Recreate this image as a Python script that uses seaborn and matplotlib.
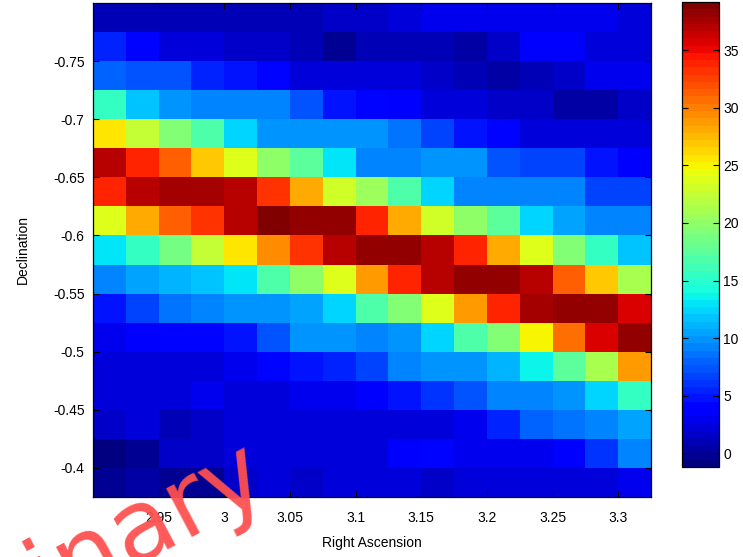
import numpy as np
import pandas as pd
import matplotlib
matplotlib.use("Agg")
import matplotlib.pyplot as plt
import seaborn as sns

# ---- data (2D histogram, rows from top: Declination -0.7875 ... -0.3875) ----
ra_edges_start = 2.9
dec_edges_start = -0.8
bin_width = 0.025
n_bins = 17

row00 = [1.2, 1.0, 1.2, 1.0, 1.0, 1.2, 1.0, 1.5, 1.8, 2.5, 2.8, 3.0, 2.8, 2.6, 3.2, 2.8, 2.5]
row01 = [5.5, 4.0, 2.5, 2.5, 1.5, 1.5, 1.0, 0.0, 1.0, 1.0, 1.0, 0.5, 1.5, 3.5, 3.5, 2.5, 2.5]
row02 = [7.8, 7.2, 7.2, 5.5, 5.0, 4.0, 2.5, 2.0, 2.0, 2.0, 1.5, 1.0, 0.5, 1.0, 1.5, 3.0, 3.0]
row03 = [15.5, 12.0, 10.0, 9.5, 9.5, 9.0, 7.2, 4.8, 4.3, 3.5, 2.5, 2.0, 1.5, 1.5, 0.5, 0.5, 1.5]
row04 = [25.5, 22.5, 19.5, 17.0, 12.5, 10.0, 10.0, 10.0, 10.0, 8.3, 6.8, 4.8, 4.0, 2.5, 2.5, 2.0, 2.0]
row05 = [37.0, 34.0, 31.0, 27.0, 24.0, 20.0, 17.5, 13.0, 9.5, 9.5, 10.0, 10.0, 7.5, 7.0, 6.5, 4.5, 3.5]
row06 = [34.0, 37.0, 37.5, 37.5, 36.8, 33.0, 28.0, 23.0, 20.5, 17.0, 12.5, 9.5, 9.0, 9.5, 9.5, 6.8, 6.8]
row07 = [24.0, 28.0, 31.0, 33.0, 37.0, 39.2, 38.5, 38.0, 34.0, 28.0, 23.0, 20.0, 17.5, 12.5, 10.5, 9.5, 9.5]
row08 = [13.0, 15.5, 19.0, 22.5, 25.5, 29.5, 33.5, 37.0, 38.5, 38.5, 37.0, 34.0, 28.0, 24.0, 19.5, 15.5, 12.0]
row09 = [9.0, 10.5, 11.0, 12.0, 13.0, 17.0, 20.0, 24.0, 28.5, 34.0, 37.0, 38.0, 38.0, 37.0, 31.5, 27.0, 21.5]
row10 = [4.8, 6.8, 8.3, 9.5, 10.0, 10.0, 10.5, 12.5, 17.0, 19.5, 24.0, 29.0, 34.0, 37.5, 38.5, 38.5, 35.5]
row11 = [3.0, 3.5, 4.0, 4.0, 5.0, 7.5, 10.0, 10.0, 9.0, 10.0, 12.5, 16.5, 19.5, 25.0, 30.5, 35.5, 38.5]
row12 = [2.5, 2.5, 2.5, 2.0, 3.0, 4.3, 4.8, 5.2, 7.0, 9.5, 10.0, 10.0, 11.0, 13.8, 17.5, 21.0, 28.5]
row13 = [2.0, 2.5, 2.5, 3.0, 2.5, 2.5, 3.0, 3.0, 3.5, 4.8, 6.3, 7.2, 9.0, 9.5, 10.0, 12.5, 15.5]
row14 = [1.5, 2.0, 1.0, 1.5, 2.0, 2.0, 2.0, 2.0, 2.5, 2.5, 2.5, 3.0, 5.5, 7.8, 8.3, 9.0, 10.5]
row15 = [-1.2, 0.0, 1.5, 1.5, 2.0, 2.0, 2.0, 2.0, 2.5, 3.5, 4.0, 3.0, 3.0, 3.0, 3.5, 6.3, 9.0]
row16 = [0.0, 0.5, -0.5, 0.0, 1.5, 2.0, 1.5, 2.0, 2.5, 2.0, 1.5, 2.5, 2.5, 2.0, 2.0, 2.5, 3.0]

x_ticks = [2.95, 3.0, 3.05, 3.1, 3.15, 3.2, 3.25, 3.3]
x_tick_labels = ["2.95", "3", "3.05", "3.1", "3.15", "3.2", "3.25", "3.3"]
y_ticks = [-0.75, -0.7, -0.65, -0.6, -0.55, -0.5, -0.45, -0.4]
y_tick_labels = ["-0.75", "-0.7", "-0.65", "-0.6", "-0.55", "-0.5", "-0.45", "-0.4"]
cbar_ticks = [0, 5, 10, 15, 20, 25, 30, 35]

rows = [row00, row01, row02, row03, row04, row05, row06, row07, row08,
        row09, row10, row11, row12, row13, row14, row15, row16]
ra_centers = [round(ra_edges_start + bin_width * (i + 0.5), 4) for i in range(n_bins)]
dec_centers = [round(dec_edges_start + bin_width * (i + 0.5), 4) for i in range(n_bins)]
df = pd.DataFrame(rows, index=dec_centers, columns=ra_centers)

# ---- figure ----
plt.rcParams['font.family'] = ['Liberation Sans', 'DejaVu Sans']
fig = plt.figure(figsize=(7.43, 5.57), dpi=100)
ax = fig.add_axes([93 / 743, 60 / 557, 558 / 743, 494 / 557])
cax = fig.add_axes([682 / 743, 90 / 557, 37 / 743, 465 / 557])

cmap = matplotlib.colormaps['jet'].resampled(64)
sns.heatmap(df, ax=ax, cbar_ax=cax, cmap=cmap, linewidths=0,
            xticklabels=False, yticklabels=False)

# numeric tick positions in heatmap cell coordinates
ax.set_xticks([(t - ra_edges_start) / bin_width for t in x_ticks])
ax.set_xticklabels(x_tick_labels)
ax.set_yticks([(t - dec_edges_start) / bin_width for t in y_ticks])
ax.set_yticklabels(y_tick_labels, rotation=0)
ax.tick_params(direction='in', top=True, right=True, length=4, width=0.8,
               labelsize=10, colors='black')
ax.tick_params(axis='x', pad=10)
ax.tick_params(axis='y', pad=6)
for s in ax.spines.values():
    s.set_visible(True)
    s.set_color('black')
    s.set_linewidth(0.9)
ax.set_xlabel("Right Ascension", fontsize=10, labelpad=8)
ax.set_ylabel("Declination", fontsize=10, labelpad=17)

cbar = ax.collections[0].colorbar
cbar.set_ticks(cbar_ticks)
cbar.outline.set_visible(True)
cbar.outline.set_linewidth(0.9)
cbar.outline.set_edgecolor('black')
cax.tick_params(direction='in', left=True, right=True, length=4, width=0.8,
                labelsize=10, colors='black', pad=3)

# watermark
fig.text(272 / 743, (557 - 489) / 557, "Preliminary", color='#ff5050',
         fontsize=72, family=['DejaVu Sans'], rotation=28, rotation_mode='anchor',
         ha='right', va='baseline', alpha=0.95)

fig.savefig("out.png", dpi=100)
